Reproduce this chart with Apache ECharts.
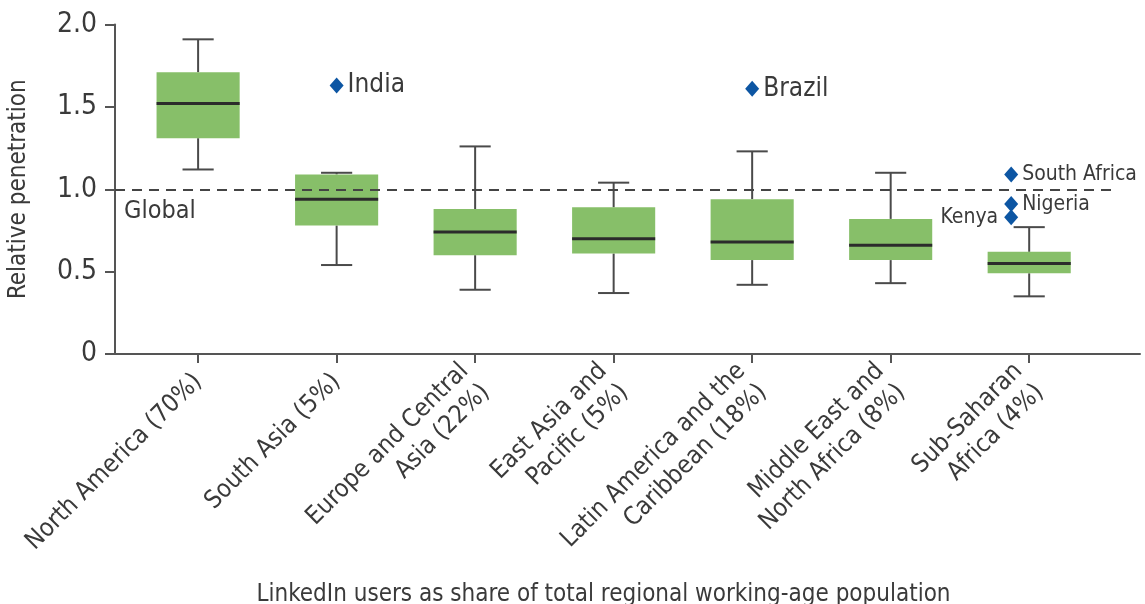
<!DOCTYPE html>
<html>
<head>
<meta charset="utf-8">
<title>LinkedIn relative penetration</title>
<script src="https://cdn.jsdelivr.net/npm/echarts@6/dist/echarts.min.js"></script>
<style>
    body { margin: 0; background: #fff; }
    #charts { width: 1145px; height: 604px; }
</style>
</head>
<body>
<div id="charts"></div>
<script>
    // regions (x axis)
    var categories = [
        'North America (70%)',
        'South Asia (5%)',
        'Europe and Central\nAsia (22%)',
        'East Asia and\nPacific (5%)',
        'Latin America and the\nCaribbean (18%)',
        'Middle East and\nNorth Africa (8%)',
        'Sub-Saharan\nAfrica (4%)'
    ];
    // box stats per region
    var lowWhisker = [1.12, 0.54, 0.39, 0.37, 0.42, 0.43, 0.35];
    var q1 = [1.31, 0.78, 0.60, 0.61, 0.57, 0.57, 0.49];
    var median = [1.52, 0.94, 0.74, 0.70, 0.68, 0.66, 0.55];
    var q3 = [1.71, 1.09, 0.88, 0.89, 0.94, 0.82, 0.62];
    var highWhisker = [1.91, 1.10, 1.26, 1.04, 1.23, 1.10, 0.77];
    // countries shown on their own
    var outlierNames = ['India', 'Brazil', 'South Africa', 'Nigeria', 'Kenya'];
    var outlierX = [1, 4, 5.87, 5.87, 5.87];
    var outlierValues = [1.63, 1.61, 1.09, 0.91, 0.83];
    var globalLevel = 1.0;

    var font = '"Liberation Sans Narrow", "DejaVu Sans Condensed", sans-serif';
    var textColor = '#3a3a3a';

    var boxData = categories.map(function (c, i) {
        return [i, lowWhisker[i], q1[i], median[i], q3[i], highWhisker[i]];
    });

    var outlierData = outlierNames.map(function (n, i) {
        var right = n !== 'Kenya';
        var big = (n === 'India' || n === 'Brazil');
        return {
            name: n,
            value: [outlierX[i], outlierValues[i]],
            label: {
                position: right ? 'right' : 'left',
                distance: right ? 4 : 6,
                fontSize: big ? 26 : 21
            }
        };
    });

    function renderBox(params, api) {
        var x = api.value(0);
        var low = api.coord([x, api.value(1)]);
        var lo = api.coord([x, api.value(2)]);
        var mid = api.coord([x, api.value(3)]);
        var hi = api.coord([x, api.value(4)]);
        var high = api.coord([x, api.value(5)]);
        var boxW = api.size([0.6, 0])[0];
        var capW = api.size([0.225, 0])[0];
        var cx = low[0];
        var whisker = { stroke: '#4a4a4a', lineWidth: 2 };
        return {
            type: 'group',
            children: [
                { type: 'line', shape: { x1: cx, y1: high[1], x2: cx, y2: hi[1] }, style: whisker },
                { type: 'line', shape: { x1: cx, y1: lo[1], x2: cx, y2: low[1] }, style: whisker },
                { type: 'line', shape: { x1: cx - capW / 2, y1: high[1], x2: cx + capW / 2, y2: high[1] }, style: whisker },
                { type: 'line', shape: { x1: cx - capW / 2, y1: low[1], x2: cx + capW / 2, y2: low[1] }, style: whisker },
                { type: 'rect', shape: { x: cx - boxW / 2, y: hi[1], width: boxW, height: lo[1] - hi[1] }, style: { fill: '#87bf69' } },
                { type: 'line', shape: { x1: cx - boxW / 2, y1: mid[1], x2: cx + boxW / 2, y2: mid[1] }, style: { stroke: '#2b2b2b', lineWidth: 3 } }
            ]
        };
    }

    var chart = echarts.init(document.getElementById('charts'));
    chart.setOption({
        animation: false,
        grid: {
            left: 115,
            right: 5,
            top: 24.5,
            bottom: 250,
            containLabel: false,
            outerBoundsMode: 'none'
        },
        xAxis: {
            type: 'value',
            min: -0.6,
            max: 6.8,
            splitLine: { show: false },
            axisLine: { show: true, onZero: false, lineStyle: { color: '#555', width: 2 } },
            axisTick: {
                show: true,
                customValues: [0, 1, 2, 3, 4, 5, 6],
                length: 9,
                lineStyle: { color: '#555', width: 2 }
            },
            axisLabel: {
                customValues: [0, 1, 2, 3, 4, 5, 6],
                rotate: 45,
                margin: 24,
                interval: 0,
                color: textColor,
                fontFamily: font,
                fontSize: 25,
                lineHeight: 30,
                formatter: function (v) { return categories[Math.round(v)]; }
            },
            name: 'LinkedIn users as share of total regional working-age population',
            nameLocation: 'middle',
            nameGap: 218,
            nameTextStyle: {
                color: textColor,
                fontFamily: font,
                fontSize: 24,
                padding: [0, 48, 0, 0]
            }
        },
        yAxis: {
            type: 'value',
            min: 0,
            max: 2,
            interval: 0.5,
            splitLine: { show: false },
            axisLine: { show: true, onZero: false, lineStyle: { color: '#555', width: 2 } },
            axisTick: { show: true, length: 10, lineStyle: { color: '#555', width: 2 } },
            axisLabel: {
                color: textColor,
                fontFamily: font,
                fontSize: 28,
                margin: 18,
                formatter: function (v) { return v === 0 ? '0' : v.toFixed(1); }
            },
            name: 'Relative penetration',
            nameLocation: 'middle',
            nameRotate: 90,
            nameGap: 84,
            nameTextStyle: { color: textColor, fontFamily: font, fontSize: 24 }
        },
        series: [
            {
                name: 'regions',
                type: 'custom',
                renderItem: renderBox,
                encode: { x: 0, y: [1, 2, 3, 4, 5] },
                data: boxData,
                z: 3,
                markLine: {
                    silent: true,
                    symbol: 'none',
                    lineStyle: { color: '#444', width: 2, type: [10, 7] },
                    label: {
                        show: true,
                        position: 'insideStartBottom',
                        formatter: 'Global',
                        color: textColor,
                        fontFamily: font,
                        fontSize: 25,
                        distance: [9, 10]
                    },
                    data: [[{ coord: [-0.6, globalLevel] }, { coord: [6.6, globalLevel] }]]
                }
            },
            {
                name: 'countries',
                type: 'scatter',
                symbol: 'diamond',
                symbolSize: [14, 16],
                itemStyle: { color: '#0d56a3', opacity: 1 },
                label: {
                    show: true,
                    formatter: '{b}',
                    color: textColor,
                    fontFamily: font
                },
                data: outlierData,
                z: 4
            }
        ]
    });
</script>
</body>
</html>
